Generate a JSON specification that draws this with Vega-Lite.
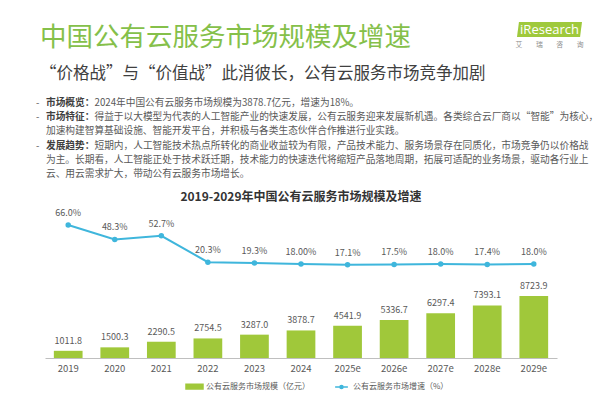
{
  "$schema": "https://vega.github.io/schema/vega-lite/v6.json",
  "padding": {"left": 36, "top": 22, "right": 5, "bottom": 5},
  "background": "white",
  "config": {
    "view": {"stroke": null},
    "font": "Noto Sans CJK SC",
    "legend": {"layout": {"bottom": {"anchor": "middle"}}}
  },
  "datasets": {
    "notes": [
      {"line": 1, "head": "市场概览：", "rest": "2024年中国公有云服务市场规模为3878.7亿元，增速为18%。"},
      {"line": 2, "head": "市场特征：", "rest": "得益于以大模型为代表的人工智能产业的快速发展，公有云服务迎来发展新机遇。各类综合云厂商以“智能”为核心，"},
      {"line": 3, "cont": "加速构建智算基础设施、智能开发平台，并积极与各类生态伙伴合作推进行业实践。"},
      {"line": 4, "head": "发展趋势：", "rest": "短期内，人工智能技术热点所转化的商业收益较为有限，产品技术能力、服务场景存在同质化，市场竞争仍以价格战"},
      {"line": 5, "cont": "为主。长期看，人工智能正处于技术跃迁期，技术能力的快速迭代将缩短产品落地周期，拓展可适配的业务场景，驱动各行业上"},
      {"line": 6, "cont": "云、用云需求扩大，带动公有云服务市场增长。"}
    ],
    "market": [
      {"year": "2019", "size": 1011.8, "rate": 66.0, "rate_label": "66.0%"},
      {"year": "2020", "size": 1500.3, "rate": 48.3, "rate_label": "48.3%"},
      {"year": "2021", "size": 2290.5, "rate": 52.7, "rate_label": "52.7%"},
      {"year": "2022", "size": 2754.5, "rate": 20.3, "rate_label": "20.3%"},
      {"year": "2023", "size": 3287.0, "rate": 19.3, "rate_label": "19.3%"},
      {"year": "2024", "size": 3878.7, "rate": 18.0, "rate_label": "18.00%"},
      {"year": "2025e", "size": 4541.9, "rate": 17.1, "rate_label": "17.1%"},
      {"year": "2026e", "size": 5336.7, "rate": 17.5, "rate_label": "17.5%"},
      {"year": "2027e", "size": 6297.4, "rate": 18.0, "rate_label": "18.0%"},
      {"year": "2028e", "size": 7393.1, "rate": 17.4, "rate_label": "17.4%"},
      {"year": "2029e", "size": 8723.9, "rate": 18.0, "rate_label": "18.0%"}
    ]
  },
  "bounds": "flush",
  "spacing": 20,
  "vconcat": [
    {
      "bounds": "flush",
      "spacing": 10,
      "hconcat": [
        {
          "width": 462,
          "height": 15,
          "title": {
            "text": "中国公有云服务市场规模及增速",
            "subtitle": "“价格战”与“价值战”此消彼长，公有云服务市场竞争加剧",
            "orient": "bottom",
            "anchor": "start",
            "offset": -12,
            "dx": -5,
            "font": "Noto Sans CJK SC",
            "fontSize": 26.5,
            "fontWeight": "normal",
            "color": "#85c04a",
            "subtitleFont": "Noto Sans CJK SC",
            "subtitleFontSize": 16.5,
            "subtitleColor": "#404040",
            "subtitlePadding": 14
          },
          "data": {"values": []},
          "mark": "text",
          "encoding": {
            "x": {"datum": 0, "type": "quantitative", "scale": {"domain": [0, 1]}, "axis": null},
            "y": {"datum": 1, "type": "quantitative", "scale": {"domain": [0, 1]}, "axis": null},
            "text": {"field": "t"}
          }
        },
        {
          "width": 65,
          "height": 15,
          "title": {
            "text": "艾　　瑞　　咨　　询",
            "orient": "bottom",
            "anchor": "middle",
            "offset": 5,
            "fontSize": 6.8,
            "fontWeight": "normal",
            "color": "#8c8c8c"
          },
          "data": {"values": [{"brand": "iResearch"}]},
          "encoding": {
            "x": {"datum": 0.5, "type": "quantitative", "scale": {"domain": [0, 1]}, "axis": null},
            "y": {"datum": 0.5, "type": "quantitative", "scale": {"domain": [0, 1]}, "axis": null}
          },
          "layer": [
            {
              "mark": {"type": "point", "shape": "M-0.94,-0.23H1L0.94,0.23H-1Z", "size": 4225, "filled": true, "opacity": 1, "color": "#9fc93c"}
            },
            {
              "mark": {"type": "text", "color": "white", "font": "Open Sans", "fontSize": 13, "align": "center", "baseline": "middle"},
              "encoding": {"text": {"field": "brand"}}
            }
          ]
        }
      ]
    },
    {
      "width": 20,
      "height": 143.3,
      "data": {"name": "notes"},
      "encoding": {
        "x": {"datum": 0, "type": "quantitative", "scale": {"domain": [0, 1]}, "axis": null},
        "y": {"field": "line", "type": "quantitative", "scale": {"domain": [-3.296, 6.796], "reverse": true, "nice": false, "zero": false}, "axis": null}
      },
      "layer": [
        {
          "transform": [{"filter": "datum.head"}],
          "mark": {"type": "text", "align": "left", "baseline": "middle", "dx": -9, "fontSize": 9.7, "color": "#595959"},
          "encoding": {"text": {"value": "-"}}
        },
        {
          "transform": [{"filter": "datum.head"}],
          "mark": {"type": "text", "align": "left", "baseline": "middle", "dx": 1, "fontSize": 9.7, "fontWeight": "bold", "color": "#404040"},
          "encoding": {"text": {"field": "head"}}
        },
        {
          "transform": [{"filter": "datum.head"}],
          "mark": {"type": "text", "align": "left", "baseline": "middle", "dx": 49.5, "fontSize": 9.7, "color": "#595959"},
          "encoding": {"text": {"field": "rest"}}
        },
        {
          "transform": [{"filter": "datum.cont"}],
          "mark": {"type": "text", "align": "left", "baseline": "middle", "dx": 1, "fontSize": 9.7, "color": "#595959"},
          "encoding": {"text": {"field": "cont"}}
        }
      ]
    },
    {
      "width": 512,
      "height": 152,
      "title": {
        "text": "2019-2029年中国公有云服务市场规模及增速",
        "anchor": "middle",
        "offset": 2,
        "fontSize": 12,
        "fontWeight": "bold",
        "color": "#333333"
      },
      "data": {"name": "market"},
      "encoding": {
        "x": {
          "field": "year",
          "type": "ordinal",
          "sort": null,
          "scale": {"paddingInner": 0.383, "paddingOuter": 0.19},
          "axis": {"title": null, "labelAngle": 0, "ticks": false, "domainColor": "#bfbfbf", "labelColor": "#595959", "labelFontSize": 9.5, "labelPadding": 5}
        }
      },
      "layer": [
        {
          "mark": {"type": "bar"},
          "encoding": {
            "y": {"field": "size", "type": "quantitative", "scale": {"domain": [0, 21400], "nice": false}, "axis": null},
            "color": {
              "datum": "公有云服务市场规模（亿元）",
              "type": "nominal",
              "scale": {"domain": ["公有云服务市场规模（亿元）", "公有云服务市场增速（%）"], "range": ["#a0c83a", "#3fb6dc"]},
              "legend": {
                "orient": "bottom",
                "direction": "horizontal",
                "title": null,
                "offset": 4,
                "labelFontSize": 8,
                "labelColor": "#595959",
                "labelOffset": 2,
                "columnPadding": 22,
                "symbolSize": 289,
                "symbolStrokeWidth": 1.5,
                "symbolType": {"expr": "datum.value == '公有云服务市场规模（亿元）' ? 'M-1,-0.28H1V0.28H-1Z' : 'M-0.75,0H-0.18M0.18,0H0.75M0.18,0A0.18,0.18 0 1 1 -0.18,0A0.18,0.18 0 1 1 0.18,0Z'"}
              }
            }
          }
        },
        {
          "mark": {"type": "text", "baseline": "middle", "dy": -10, "fontSize": 9, "color": "#595959"},
          "encoding": {
            "y": {"field": "size", "type": "quantitative", "scale": {"domain": [0, 21400], "nice": false}, "axis": null},
            "text": {"field": "size", "type": "quantitative", "format": ".1f"}
          }
        },
        {
          "mark": {"type": "line", "strokeWidth": 2, "point": {"filled": true, "size": 30}},
          "encoding": {
            "y": {"field": "rate", "type": "quantitative", "scale": {"domain": [-97.7, 89.4], "nice": false, "zero": false}, "axis": null},
            "color": {"datum": "公有云服务市场增速（%）", "type": "nominal"}
          }
        },
        {
          "mark": {"type": "text", "baseline": "middle", "dy": -12, "fontSize": 9, "color": "#595959"},
          "encoding": {
            "y": {"field": "rate", "type": "quantitative", "scale": {"domain": [-97.7, 89.4], "nice": false, "zero": false}, "axis": null},
            "text": {"field": "rate_label"}
          }
        }
      ],
      "resolve": {"scale": {"y": "independent"}}
    }
  ]
}
